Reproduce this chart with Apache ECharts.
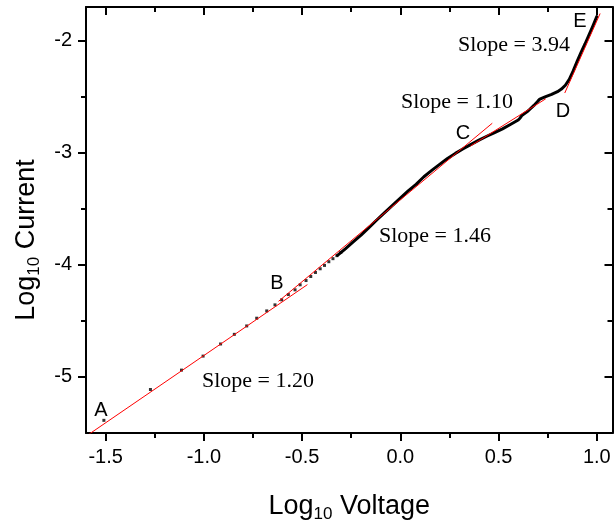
<!DOCTYPE html>
<html>
<head>
<meta charset="utf-8">
<script src="https://cdn.jsdelivr.net/npm/echarts@6/dist/echarts.min.js"></script>
<style>
  html, body { margin: 0; padding: 0; background: #fff; }
  #chart { width: 616px; height: 521px; }
</style>
</head>
<body>
<div id="chart"></div>
<script>
// Log-log current/voltage characteristic with power-law fits in four regions.

// Sparse low-voltage measurements (log10 V, log10 I)
const sparseLogV = [-1.509, -1.272, -1.114, -1.004, -0.915, -0.845, -0.782, -0.731, -0.680, -0.638,
                    -0.604, -0.570, -0.536, -0.510, -0.480, -0.456, -0.432, -0.408, -0.386, -0.364,
                    -0.343, -0.323, -0.303];
const sparseLogI = [-5.387, -5.112, -4.939, -4.814, -4.706, -4.620, -4.545, -4.476, -4.411, -4.357,
                    -4.312, -4.265, -4.223, -4.178, -4.140, -4.104, -4.068, -4.035, -4.005, -3.972,
                    -3.945, -3.918, -3.889];

// Dense measurements at higher voltage
const denseLogV = [-0.32, -0.28, -0.24, -0.20, -0.16, -0.12, -0.08, -0.04, 0.00, 0.04,
                   0.08, 0.12, 0.16, 0.20, 0.24, 0.28, 0.32, 0.36, 0.40, 0.44,
                   0.48, 0.52, 0.56, 0.60, 0.61, 0.62, 0.65, 0.68, 0.70, 0.71,
                   0.74, 0.77, 0.80, 0.82, 0.84, 0.86, 0.88, 0.90, 0.92, 0.94,
                   0.96, 0.98, 1.00];
const denseLogI = [-3.915, -3.857, -3.795, -3.735, -3.668, -3.600, -3.535, -3.470, -3.405, -3.340,
                   -3.282, -3.214, -3.158, -3.104, -3.052, -3.006, -2.965, -2.925, -2.887, -2.853,
                   -2.820, -2.787, -2.748, -2.708, -2.690, -2.665, -2.628, -2.578, -2.540, -2.522,
                   -2.500, -2.480, -2.455, -2.432, -2.398, -2.345, -2.270, -2.185, -2.105, -2.030,
                   -1.950, -1.870, -1.785];

// Linear fits in log-log space: slope, intercept and fitted range
const fitSlopes     = [1.20, 1.46, 1.10, 3.94];
const fitIntercepts = [-3.609, -3.420, -3.333, -5.765];
const fitFrom       = [-1.60, -0.62, 0.357, 0.837];
const fitTo         = [-0.473, 0.468, 0.740, 1.017];

// Region markers
const regionLetters = ['A', 'B', 'C', 'D', 'E'];

// Axis ticks
const xMajor = [-1.5, -1.0, -0.5, 0.0, 0.5, 1.0];
const xMinor = [-1.25, -0.75, -0.25, 0.25, 0.75];
const yMajor = [-5, -4, -3, -2];
const yMinor = [-4.5, -3.5, -2.5];

const X_MIN = -1.6, X_MAX = 1.08, Y_MIN = -5.5, Y_MAX = -1.7;

const SANS = '"Liberation Sans", Arial, Helvetica, sans-serif';
const SERIF = '"Liberation Serif", "Times New Roman", Times, serif';

const chart = echarts.init(document.getElementById('chart'), null, { renderer: 'canvas' });

const plotRect = { left: 86, right: 3.5, top: 7, bottom: 88, containLabel: false, outerBoundsMode: 'none' };

function tickAxis(opts) {
  return Object.assign({
    type: 'value',
    splitLine: { show: false },
    axisLine: { show: false, onZero: false },
    axisLabel: { show: false },
    axisTick: { show: true }
  }, opts);
}

const titleRich = {
  a: { fontSize: 27, lineHeight: 27, fontFamily: SANS, color: '#000', verticalAlign: 'top' },
  s: { fontSize: 17, lineHeight: 17, fontFamily: SANS, color: '#000', verticalAlign: 'top', padding: [13, 0, 0, 0] }
};

const frameLine = { show: true, onZero: false, lineStyle: { color: '#000', width: 2 } };
const tickStyle = { color: '#000', width: 2 };

// grid 0 carries the frame, major ticks and labels; grid 1 (same rectangle) carries minor ticks
const xAxes = [
  tickAxis({
    gridIndex: 0, position: 'bottom', min: X_MIN, max: X_MAX,
    axisLine: frameLine,
    axisTick: { show: true, inside: false, length: 8, customValues: xMajor, lineStyle: tickStyle },
    axisLabel: { show: true, customValues: xMajor, margin: 14, fontSize: 20, fontFamily: SANS, color: '#000',
                 formatter: v => Number(v).toFixed(1) },
    name: '{a|Log}{s|10}{a| Voltage}', nameLocation: 'middle', nameGap: 60,
    nameTextStyle: { rich: titleRich }
  }),
  tickAxis({
    gridIndex: 0, position: 'top', min: X_MIN, max: X_MAX,
    axisLine: frameLine,
    axisTick: { show: true, inside: true, length: 8, customValues: xMajor, lineStyle: tickStyle }
  }),
  tickAxis({
    gridIndex: 1, position: 'bottom', min: X_MIN, max: X_MAX,
    axisTick: { show: true, inside: false, length: 5, customValues: xMinor, lineStyle: tickStyle }
  }),
  tickAxis({
    gridIndex: 1, position: 'top', min: X_MIN, max: X_MAX,
    axisTick: { show: true, inside: true, length: 5, customValues: xMinor, lineStyle: tickStyle }
  })
];

const yAxes = [
  tickAxis({
    gridIndex: 0, position: 'left', min: Y_MIN, max: Y_MAX,
    axisLine: frameLine,
    axisTick: { show: true, inside: false, length: 8, customValues: yMajor, lineStyle: tickStyle },
    axisLabel: { show: true, customValues: yMajor, margin: 14, fontSize: 20, fontFamily: SANS, color: '#000',
                 formatter: v => String(v) },
    name: '{a|Log}{s|10}{a| Current}', nameLocation: 'middle', nameGap: 46,
    nameTextStyle: { rich: titleRich, padding: [0, 40, 0, 0] }
  }),
  tickAxis({
    gridIndex: 0, position: 'right', min: Y_MIN, max: Y_MAX,
    axisLine: frameLine,
    axisTick: { show: true, inside: true, length: 8, customValues: yMajor, lineStyle: tickStyle }
  }),
  tickAxis({
    gridIndex: 1, position: 'left', min: Y_MIN, max: Y_MAX,
    axisTick: { show: true, inside: false, length: 5, customValues: yMinor, lineStyle: tickStyle }
  }),
  tickAxis({
    gridIndex: 1, position: 'right', min: Y_MIN, max: Y_MAX,
    axisTick: { show: true, inside: true, length: 5, customValues: yMinor, lineStyle: tickStyle }
  })
];

const sparseData = sparseLogV.map((v, i) => [v, sparseLogI[i]]);
const denseData = denseLogV.map((v, i) => [v, denseLogI[i]]);

const fitSeries = fitSlopes.map((m, i) => ({
  type: 'line',
  name: 'fit ' + (i + 1),
  xAxisIndex: 0, yAxisIndex: 0,
  symbol: 'none',
  silent: true,
  clip: true,
  z: 5,
  lineStyle: { color: '#ff0000', width: 1 },
  data: [[fitFrom[i], m * fitFrom[i] + fitIntercepts[i]],
         [fitTo[i], m * fitTo[i] + fitIntercepts[i]]]
}));

// Annotation placement (pixels)
const slopePos = [[202, 381], [379, 236], [401, 102], [458, 45]];
const letterPos = [[101, 410], [277, 283], [463, 133], [563, 111], [580, 21]];

const graphics = [];
fitSlopes.forEach((m, i) => {
  graphics.push({
    type: 'text', x: slopePos[i][0], y: slopePos[i][1], z: 10,
    style: { text: 'Slope = ' + m.toFixed(2), font: '22px ' + SERIF, fill: '#000',
             textAlign: 'left', textVerticalAlign: 'middle', align: 'left', verticalAlign: 'middle' }
  });
});
regionLetters.forEach((t, i) => {
  graphics.push({
    type: 'text', x: letterPos[i][0], y: letterPos[i][1], z: 10,
    style: { text: t, font: '20px ' + SANS, fill: '#000',
             textAlign: 'center', textVerticalAlign: 'middle', align: 'center', verticalAlign: 'middle' }
  });
});

chart.setOption({
  animation: false,
  backgroundColor: '#fff',
  grid: [Object.assign({}, plotRect), Object.assign({}, plotRect)],
  xAxis: xAxes,
  yAxis: yAxes,
  series: [
    {
      type: 'scatter', name: 'measured (low V)',
      xAxisIndex: 0, yAxisIndex: 0,
      symbol: 'rect', symbolSize: 3,
      itemStyle: { color: '#000' },
      z: 3,
      data: sparseData
    },
    {
      type: 'line', name: 'measured',
      xAxisIndex: 0, yAxisIndex: 0,
      symbol: 'none',
      z: 3,
      lineStyle: { color: '#000', width: 3, cap: 'round', join: 'round' },
      data: denseData
    }
  ].concat(fitSeries),
  graphic: graphics
});
</script>
</body>
</html>
